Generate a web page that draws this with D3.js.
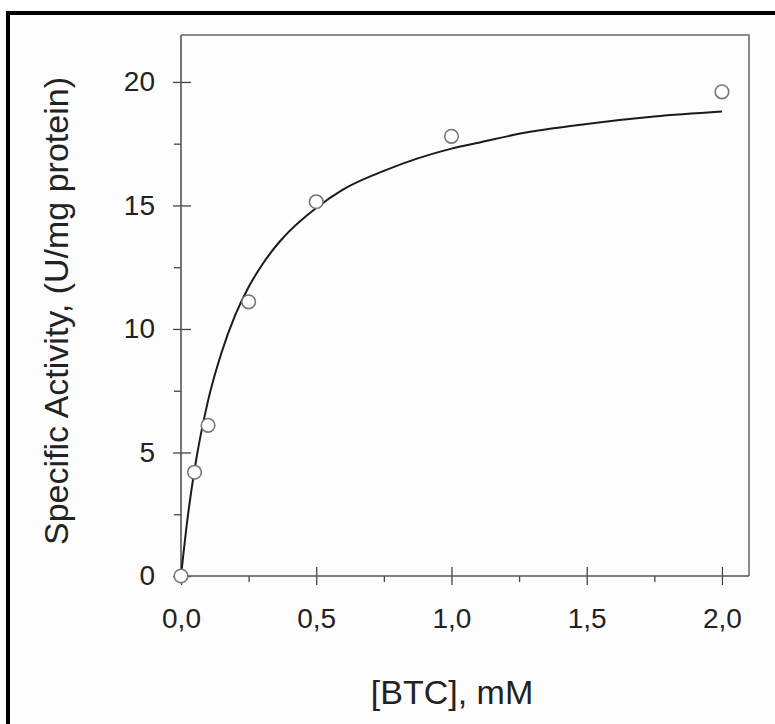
<!DOCTYPE html>
<html><head><meta charset="utf-8">
<script src="https://cdn.jsdelivr.net/npm/d3@7"></script>
<style>html,body{margin:0;padding:0;background:#fff;}svg{display:block;}</style>
</head><body>
<svg id="chart" width="775" height="724"></svg>
<script>
// Measured data points
const xData = [0, 0.05, 0.1, 0.25, 0.5, 1.0, 2.0];
const yData = [0, 4.2, 6.1, 11.1, 15.15, 17.8, 19.6];
// Fitted curve
const curveX = [0, 0.025, 0.05, 0.1, 0.15, 0.2, 0.25, 0.3, 0.366, 0.4, 0.5, 0.6, 0.75, 1.0, 1.105, 1.25, 1.5, 1.75, 2.0];
const curveY = [0, 2.4, 4.3, 7.1, 9.05, 10.55, 11.7, 12.6, 13.55, 13.95, 14.9, 15.65, 16.4, 17.3, 17.55, 17.9, 18.3, 18.6, 18.8];
const xTickValues = [0, 0.5, 1.0, 1.5, 2.0];
const xTickLabels = ["0,0", "0,5", "1,0", "1,5", "2,0"];
const xMinorTicks = [0.25, 0.75, 1.25, 1.75];
const yTickValues = [0, 5, 10, 15, 20];
const yTickLabels = ["0", "5", "10", "15", "20"];
const yMinorTicks = [2.5, 7.5, 12.5, 17.5];
const xTitle = "[BTC], mM";
const yTitle = "Specific Activity, (U/mg protein)";

const svg = d3.select("#chart");
const L = 181, R = 749, T = 35, B = 576;
const x = d3.scaleLinear().domain([0, 2.1]).range([L, R]);
const y = d3.scaleLinear().domain([0, 21.9]).range([B, T]);
const font = "'Liberation Sans', Arial, sans-serif";

// outer border (image is cropped on right/bottom)
svg.append("rect").attr("x", 8).attr("y", 13).attr("width", 800).attr("height", 800)
  .attr("fill", "#fdfdfd").attr("stroke", "#000").attr("stroke-width", 4);

// frame top/right
svg.append("path").attr("d", `M${L},${T}H${R}V${B}`).attr("fill", "none")
  .attr("stroke", "#8a8a8a").attr("stroke-width", 2);

// Axes
const xAxisMajor = d3.axisBottom(x).tickValues(xTickValues).tickSize(9)
  .tickFormat((d, i) => xTickLabels[i]).tickPadding(23);
const gx = svg.append("g").attr("transform", `translate(0,${B})`).call(xAxisMajor);
gx.select(".domain").remove();
gx.selectAll(".tick line").attr("y1", -9).attr("stroke", "#444").attr("stroke-width", 1.3);
gx.selectAll(".tick text").attr("font-family", font).attr("font-size", 28).attr("fill", "#222");

const gxm = svg.append("g").attr("transform", `translate(0,${B})`)
  .call(d3.axisBottom(x).tickValues(xMinorTicks).tickSize(6).tickFormat(""));
gxm.select(".domain").remove();
gxm.selectAll(".tick line").attr("stroke", "#444").attr("stroke-width", 1.3);

const yAxisMajor = d3.axisLeft(y).tickValues(yTickValues).tickSize(8)
  .tickFormat((d, i) => yTickLabels[i]).tickPadding(18);
const gy = svg.append("g").attr("transform", `translate(${L},0)`).call(yAxisMajor);
gy.select(".domain").remove();
gy.selectAll(".tick line").attr("x1", 10).attr("stroke", "#444").attr("stroke-width", 1.3);
gy.selectAll(".tick text").attr("font-family", font).attr("font-size", 28).attr("fill", "#222");

const gym = svg.append("g").attr("transform", `translate(${L},0)`)
  .call(d3.axisLeft(y).tickValues(yMinorTicks).tickSize(7).tickFormat(""));
gym.select(".domain").remove();
gym.selectAll(".tick line").attr("stroke", "#444").attr("stroke-width", 1.3);

// left & bottom axis lines
svg.append("path").attr("d", `M${L},${T}V${B}H${R}`).attr("fill", "none")
  .attr("stroke", "#555").attr("stroke-width", 1.6);

// curve
const pts = curveX.map((d, i) => [d, curveY[i]]);
svg.append("path").datum(pts)
  .attr("d", d3.line().x(d => x(d[0])).y(d => y(d[1])).curve(d3.curveMonotoneX))
  .attr("fill", "none").attr("stroke", "#1a1a1a").attr("stroke-width", 2);

// points
svg.append("g").selectAll("circle").data(xData.map((d, i) => [d, yData[i]])).join("circle")
  .attr("cx", d => x(d[0])).attr("cy", d => y(d[1])).attr("r", 6.8)
  .attr("fill", "#fff").attr("stroke", "#777").attr("stroke-width", 1.6);

// titles
svg.append("text").attr("x", 452).attr("y", 704).attr("text-anchor", "middle")
  .attr("font-family", font).attr("font-size", 34).attr("fill", "#222").text(xTitle);
svg.append("text").attr("transform", `translate(68,311) rotate(-90)`)
  .attr("text-anchor", "middle").attr("font-family", font).attr("font-size", 34)
  .attr("fill", "#222").text(yTitle);
</script>
</body></html>
